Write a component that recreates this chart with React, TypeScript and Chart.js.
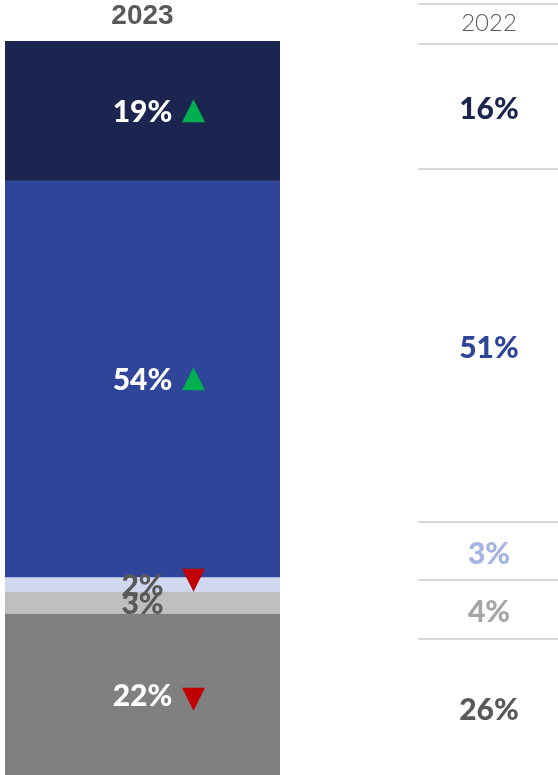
import React, { useEffect, useRef } from "react";
import { Chart, registerables } from "chart.js";

Chart.register(...registerables);

const categories = ["Segment A", "Segment B", "Segment C", "Segment D", "Segment E"];
const values2023 = [19, 54, 2, 3, 22];
const values2022 = [16, 51, 3, 4, 26];
const changes = ["up", "up", "down", "", "down"];
const year2023 = "2023";
const year2022 = "2022";

const barColors = ["#1b2550", "#2e4599", "#d0d8f0", "#bfbfbf", "#808080"];
const label2023Colors = ["#ffffff", "#ffffff", "#595959", "#595959", "#ffffff"];
const label2022Colors = ["#1b2550", "#2e4599", "#a3b3e3", "#a6a6a6", "#595959"];
// layout of the 2022 comparison column (row boundaries in px)
const rowBounds2022 = [44, 169, 522, 580, 639, 775];

const PCT_FONT = "900 30px Lato, 'Open Sans', sans-serif";
const TEXT_SHIFT = 2;

const overlay = {
  id: "overlay",
  afterDatasetsDraw(chart: any) {
    const ctx = chart.ctx;
    const area = chart.chartArea;
    const cx = (area.left + area.right) / 2;
    ctx.save();
    // 2023 header
    ctx.font = "bold 28px 'Liberation Sans', Arial, sans-serif";
    ctx.fillStyle = "#595959";
    ctx.textAlign = "center";
    ctx.textBaseline = "middle";
    ctx.fillText(year2023, cx, 16);

    // segment labels and change markers
    chart.data.datasets.forEach((ds: any, i: number) => {
      const meta = chart.getDatasetMeta(i);
      const el = meta.data[0];
      const top = Math.min(el.y, el.base);
      const bot = Math.max(el.y, el.base);
      const y = (top + bot) / 2;
      ctx.font = PCT_FONT;
      ctx.fillStyle = label2023Colors[i];
      ctx.textAlign = "center";
      ctx.textBaseline = "middle";
      ctx.fillText(values2023[i] + "%", cx, y + TEXT_SHIFT);
      const tx = cx + 51;
      const h = 11.5;
      if (changes[i] === "up") {
        ctx.fillStyle = "#00b050";
        ctx.beginPath();
        ctx.moveTo(tx, y - h);
        ctx.lineTo(tx + h, y + h);
        ctx.lineTo(tx - h, y + h);
        ctx.closePath();
        ctx.fill();
      } else if (changes[i] === "down") {
        const yy = i === 2 ? y - 4 : y + 5;
        ctx.fillStyle = "#c00000";
        ctx.beginPath();
        ctx.moveTo(tx - h, yy - h);
        ctx.lineTo(tx + h, yy - h);
        ctx.lineTo(tx, yy + h);
        ctx.closePath();
        ctx.fill();
      }
    });

    // 2022 column
    const colLeft = 418;
    const colRight = 558;
    const colCx = 489;
    ctx.strokeStyle = "#d9d9d9";
    ctx.lineWidth = 2;
    const lines = [4, ...rowBounds2022.slice(0, rowBounds2022.length - 1)];
    lines.forEach((ly) => {
      ctx.beginPath();
      ctx.moveTo(colLeft, ly);
      ctx.lineTo(colRight, ly);
      ctx.stroke();
    });
    ctx.font = "300 24px Lato, 'Open Sans', sans-serif";
    ctx.fillStyle = "#595959";
    ctx.fillText(year2022, colCx, 23);
    values2022.forEach((v, i) => {
      const y = (rowBounds2022[i] + rowBounds2022[i + 1]) / 2;
      ctx.font = PCT_FONT;
      ctx.fillStyle = label2022Colors[i];
      ctx.fillText(v + "%", colCx, y + TEXT_SHIFT + 1);
    });
    ctx.restore();
  },
};

export default function App() {
  const ref = useRef<HTMLCanvasElement>(null);
  useEffect(() => {
    document.body.style.margin = "0";
    const chart = new Chart(ref.current!, {
      type: "bar",
      data: {
        labels: [year2023],
        datasets: categories.map((c, i) => ({
          label: c,
          data: [values2023[i]],
          backgroundColor: barColors[i],
          borderWidth: 0,
          barPercentage: 1,
          categoryPercentage: 1,
        })),
      },
      options: {
        animation: false,
        responsive: false,
        layout: { padding: { left: 5, right: 278, top: 41, bottom: 0 } },
        plugins: { legend: { display: false }, tooltip: { enabled: false } },
        scales: {
          x: { stacked: true, display: false },
          y: { stacked: true, display: false, min: 0, max: 100, reverse: true },
        },
      },
      plugins: [overlay],
    });
    return () => chart.destroy();
  }, []);
  return (
    <div style={{ position: "absolute", left: 0, top: 0, width: 558, height: 775 }}>
      <canvas ref={ref} width={558} height={775} />
    </div>
  );
}
